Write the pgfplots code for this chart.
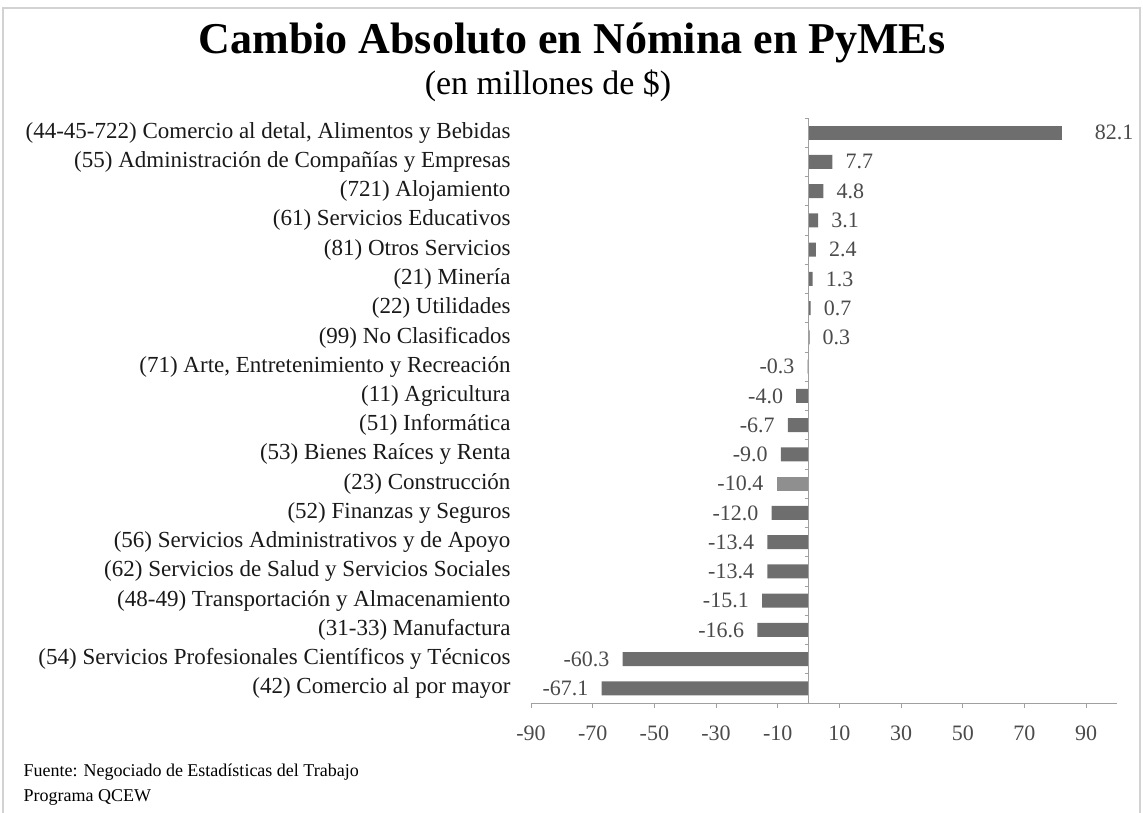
\documentclass[border=0pt]{standalone}
\usepackage{fontspec}
\setmainfont{Liberation Serif}
\usepackage{pgfplots}
\usepackage{pgfplotstable}
\pgfplotsset{compat=1.18}
\definecolor{bargray}{HTML}{6E6E6E}
\definecolor{barlight}{HTML}{8F8F8F}
\definecolor{axgray}{HTML}{A0A0A0}
\definecolor{valgray}{HTML}{4A4A4A}

\pgfplotstableread{
idx val
0 -67.1
1 -60.3
2 -16.6
3 -15.1
4 -13.4
5 -13.4
6 -12.0
8 -9.0
9 -6.7
10 -4.0
11 -0.3
12 0.3
13 0.7
14 1.3
15 2.4
16 3.1
17 4.8
18 7.7
}\maindata

\pgfplotstableread{
idx val
19 82.1
}\topdata

\pgfplotstableread{
idx val
7 -10.4
}\constdata

\begin{document}
\begin{tikzpicture}
\path[use as bounding box] (0,0) rectangle (1143pt,-813pt);
\draw[gray!35, line width=1.5pt] (3pt,-813pt) -- (3pt,-8pt) -- (1140pt,-8pt) -- (1140pt,-813pt);
\node[font=\fontsize{44}{48}\selectfont\bfseries] at (572pt,-43pt) {Cambio Absoluto en Nómina en PyMEs};
\node[font=\fontsize{34}{38}\selectfont] at (548pt,-86pt) {(en millones de \$)};
\node[anchor=base west, font=\fontsize{18}{20}\selectfont] at (20pt,-776pt) {Fuente: Negociado de Estadísticas del Trabajo};
\node[anchor=base west, font=\fontsize{18}{20}\selectfont] at (20pt,-801pt) {Programa QCEW};

\begin{axis}[
  at={(531pt,-703pt)}, anchor=south west,
  scale only axis, width=586pt, height=585pt,
  xbar, bar width=14pt, bar shift=0pt,
  xmin=-90, xmax=100, ymin=-0.5, ymax=19.5,
  axis x line*=bottom, axis y line*=left,
  x axis line style={draw=axgray, line width=1pt, -},
  y axis line style={draw=none},
  ytick style={draw=none},
  xtick style={draw=axgray, line width=0.8pt},
  tick align=outside, major tick length=5pt,
  xtick={-90,-70,-50,-30,-10,10,30,50,70,90},
  ytick={0,...,19},
  yticklabels={
    (42) Comercio al por mayor,
    (54) Servicios Profesionales Científicos y Técnicos,
    (31-33) Manufactura,
    (48-49) Transportación y Almacenamiento,
    (62) Servicios de Salud y Servicios Sociales,
    (56) Servicios Administrativos y de Apoyo,
    (52) Finanzas y Seguros,
    (23) Construcción,
    (53) Bienes Raíces y Renta,
    (51) Informática,
    (11) Agricultura,
    {(71) Arte, Entretenimiento y Recreación},
    (99) No Clasificados,
    (22) Utilidades,
    (21) Minería,
    (81) Otros Servicios,
    (61) Servicios Educativos,
    (721) Alojamiento,
    (55) Administración de Compañías y Empresas,
    {(44-45-722) Comercio al detal, Alimentos y Bebidas}
  },
  yticklabel style={font=\fontsize{23}{25}\selectfont, text=black!90, anchor=east, xshift=-12pt},
  xticklabel style={font=\fontsize{22}{24}\selectfont, text=valgray, yshift=-14pt},
  /pgf/number format/assume math mode=true,
  nodes near coords={\pgfmathprintnumber[fixed,zerofill,precision=1,assume math mode=true]{\pgfplotspointmeta}},
  nodes near coords align={horizontal},
  nodes near coords style={font=\fontsize{22}{24}\selectfont, text=valgray, inner xsep=13pt},
  clip=false,
]
\addplot[fill=bargray, draw=none] table[x=val, y=idx] {\maindata};
\addplot[fill=barlight, draw=none] table[x=val, y=idx] {\constdata};
\addplot[fill=bargray, draw=none, nodes near coords style={inner xsep=0pt, xshift=33pt}] table[x=val, y=idx] {\topdata};
\draw[axgray, line width=1pt] (axis cs:0,-0.5) -- (axis cs:0,19.5);
\pgfplotsinvokeforeach{0,...,20}{
  \draw[axgray, line width=0.8pt] ([xshift=-4pt]axis cs:0,#1-0.5) -- (axis cs:0,#1-0.5);
}
\end{axis}
\end{tikzpicture}
\end{document}
